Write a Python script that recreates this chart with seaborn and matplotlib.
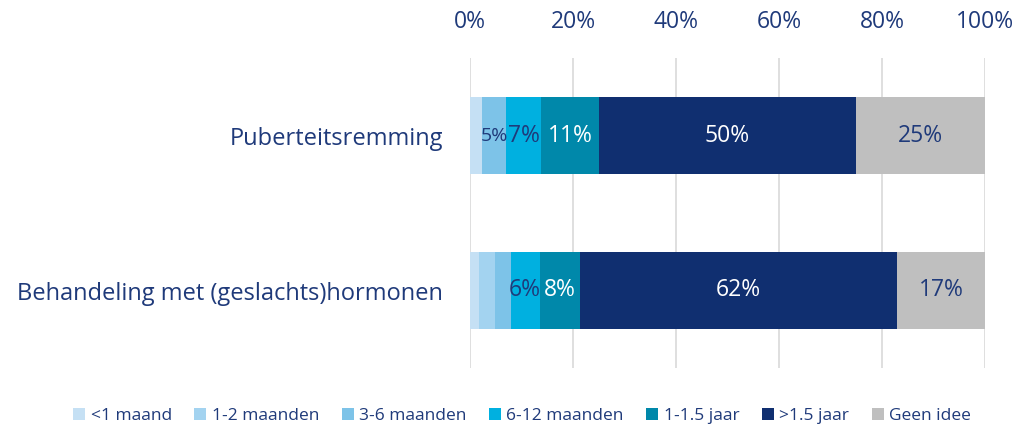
import matplotlib
matplotlib.use("Agg")
import matplotlib.pyplot as plt
from matplotlib.patches import Patch
import seaborn as sns
import pandas as pd
import numpy as np

# data (percentages)
behandelingen = ["Puberteitsremming", "Behandeling met (geslachts)hormonen"]
categorieen = ["<1 maand", "1-2 maanden", "3-6 maanden", "6-12 maanden",
               "1-1.5 jaar", ">1.5 jaar", "Geen idee"]
puberteitsremming = [2.3, 0.0, 4.7, 6.8, 11.3, 49.8, 25.1]
hormonen = [1.7, 3.1, 3.1, 5.6, 7.8, 61.6, 17.1]

kleuren = ["#C5E0F4", "#A3D3F0", "#7DC3E8", "#00B0E0",
           "#0088AA", "#102F70", "#BFBFBF"]
label_kleur = ["#1F3A7A", "#1F3A7A", "#1F3A7A", "#1F3A7A",
               "white", "white", "#1F3A7A"]
tekst = "#1F3A7A"

df = pd.DataFrame([puberteitsremming, hormonen], columns=categorieen)
df.insert(0, "Behandeling", behandelingen)
cum = df[categorieen].cumsum(axis=1)
cum.insert(0, "Behandeling", behandelingen)

sns.set_style("white")
plt.rcParams["font.family"] = ["Open Sans", "DejaVu Sans"]

fig = plt.figure(figsize=(10.19, 4.26), dpi=100)
ax = fig.add_axes([470 / 1019, 1 - 368 / 426, 515 / 1019, 310 / 426])

# stacked bars: draw cumulative totals from back to front
for cat, kleur in reversed(list(zip(categorieen, kleuren))):
    sns.barplot(data=cum, x=cat, y="Behandeling", orient="h", color=kleur,
                width=0.5, ax=ax, saturation=1, edgecolor="none", zorder=2)

# value labels in the middle of each segment
for i, row in df.iterrows():
    links = 0.0
    for cat, kl in zip(categorieen, label_kleur):
        v = row[cat]
        if v >= 4:
            fs = 14 if v < 5 else 16.5
            ax.text(links + v / 2, i, f"{v:.0f}%", ha="center", va="center",
                    color=kl, fontsize=fs, zorder=3)
        links += v

ax.set_xlim(0, 100)
ax.set_ylim(1.5, -0.5)
ax.set_xticks(np.arange(0, 101, 20))
ax.set_xticklabels([f"{t}%" for t in range(0, 101, 20)])
ax.xaxis.tick_top()
ax.tick_params(axis="x", length=0, pad=17, labelsize=16.5, labelcolor=tekst)
ax.tick_params(axis="y", length=0, pad=19.5, labelsize=17, labelcolor=tekst)
ax.set_xlabel("")
ax.set_ylabel("")
ax.grid(axis="x", color="#D9D9D9", linewidth=1.2, zorder=0)
ax.set_axisbelow(True)
for s in ax.spines.values():
    s.set_visible(False)

handles = [Patch(facecolor=k, edgecolor="none", label=c)
           for c, k in zip(categorieen, kleuren)]
fig.legend(handles=handles, loc="center", ncol=7, frameon=False,
           bbox_to_anchor=(522 / 1019, 1 - 416 / 426), fontsize=12.5,
           handlelength=0.7, handleheight=0.7, handletextpad=0.3,
           columnspacing=1.3, labelcolor=tekst)

fig.savefig("out.png", dpi=100)
